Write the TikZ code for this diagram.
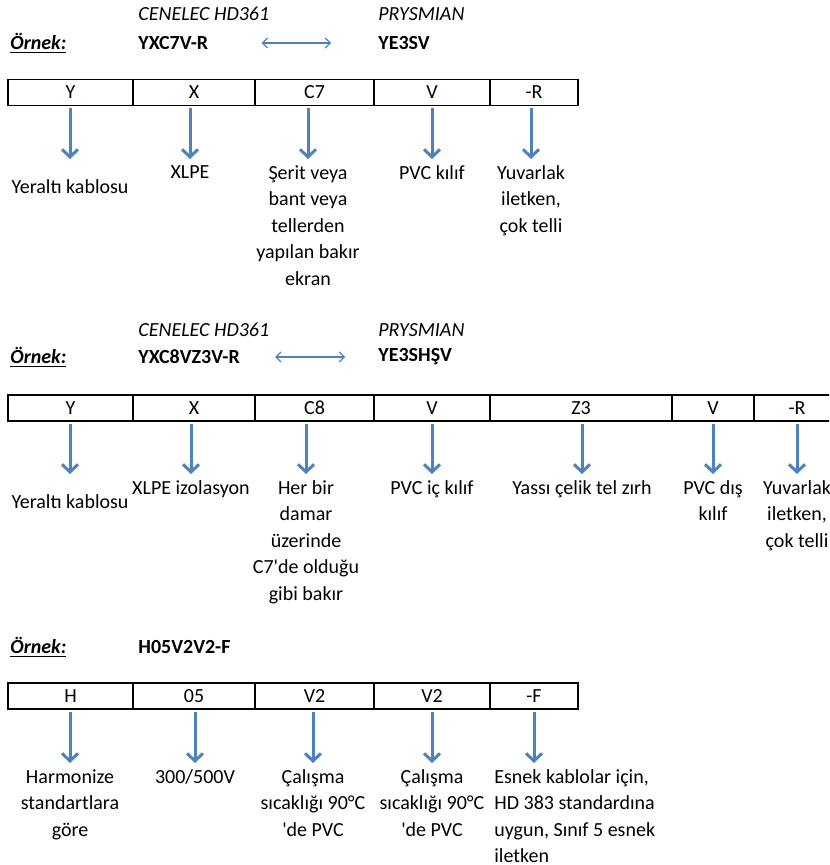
\documentclass[tikz,border=0pt]{standalone}
\usepackage{fontspec}
\setmainfont{Carlito}
\usepackage{tikz}
\usetikzlibrary{arrows.meta,positioning}
\definecolor{arrblue}{HTML}{4F81BD}
\tikzset{
  cell/.style={draw, line width=0.8pt, minimum height=13pt, inner sep=0pt, outer sep=0pt},
  lab/.style={anchor=north, align=center, inner sep=0pt, font=\fontsize{10}{13.25}\selectfont},
  arr/.style={arrblue, line width=1.5pt, -{Straight Barb[length=3.8pt,width=8pt]}, shorten <=1.5pt, shorten >=3pt},
  dblarr/.style={arrblue, line width=0.6pt, {Straight Barb[length=2.5pt,width=5pt]}-{Straight Barb[length=2.5pt,width=5pt]}},
  ornek/.style={anchor=west, inner sep=0pt, font=\bfseries\itshape},
  code/.style={anchor=west, inner sep=0pt, font=\bfseries},
  std/.style={anchor=west, inner sep=0pt, font=\itshape},
}

\begin{document}
\begin{tikzpicture}[x=0.5pt,y=-0.5pt]
          \useasboundingbox (0,0) rectangle (829,865);
          \clip (0,0) rectangle (829,865);

          % first example: heading
          \node[std] (std1) at (138,14) {CENELEC HD361};
          \node[std] (pry1) at (378,14) {PRYSMIAN};
          \node[ornek] (orn1) at (10,43) {\underline{Örnek:}};
          \node[code] (cod1) at (138,43) {YXC7V-R};
          \node[code] (prs1) at (378,43) {YE3SV};
          \draw[dblarr, shorten <=26.5pt, shorten >=23.5pt] (cod1) -- (prs1);
          % cells
          \node[cell, minimum width=62.5pt] (a1) at (70.5,92.5) {Y};
          \node[cell, minimum width=61pt] (a2) at (194,92.5) {X};
          \node[cell, minimum width=59.5pt] (a3) at (314.5,92.5) {C7};
          \node[cell, minimum width=58pt] (a4) at (432,92.5) {V};
          \node[cell, minimum width=44pt] (a5) at (534,92.5) {-R};
          % meanings
          \node[lab, minimum height=21.5pt] (la1) at (70,165) {Yeraltı kablosu};
          \node[lab] (la2) at (190,165) {XLPE};
          \node[lab] (la3) at (308,165) {Şerit veya\\bant veya\\tellerden\\yapılan bakır\\ekran};
          \node[lab] (la4) at (432,165) {PVC kılıf};
          \node[lab] (la5) at (531,165) {Yuvarlak\\iletken,\\çok telli};
          % arrows
          \draw[arr] (la1.north |- a1.south) -- (la1.north);
          \draw[arr] (la2.north |- a2.south) -- (la2.north);
          \draw[arr] (la3.north |- a3.south) -- (la3.north);
          \draw[arr] (la4.north |- a4.south) -- (la4.north);
          \draw[arr] (la5.north |- a5.south) -- (la5.north);

          % second example: heading
          \node[std] (std2) at (138,330) {CENELEC HD361};
          \node[std] (pry2) at (378,330) {PRYSMIAN};
          \node[ornek] (orn2) at (10,357) {\underline{Örnek:}};
          \node[code] (cod2) at (138,357) {YXC8VZ3V-R};
          \node[code] (prs2) at (378,357) {YE3SHŞV};
          \draw[dblarr, shorten <=17.5pt, shorten >=16.5pt] (cod2) -- (prs2);
          % cells
          \node[cell, minimum width=62.5pt] (b1) at (70.5,408) {Y};
          \node[cell, minimum width=61pt] (b2) at (194,408) {X};
          \node[cell, minimum width=59.5pt] (b3) at (314.5,408) {C8};
          \node[cell, minimum width=58pt] (b4) at (432,408) {V};
          \node[cell, minimum width=91pt] (b5) at (581,408) {Z3};
          \node[cell, minimum width=41pt] (b6) at (713,408) {V};
          \node[cell, minimum width=43pt] (b7) at (797,408) {-R};
          % meanings
          \node[lab, minimum height=21pt] (lb1) at (70,480) {Yeraltı kablosu};
          \node[lab] (lb2) at (191,480) {XLPE izolasyon};
          \node[lab] (lb3) at (306,480) {Her bir\\damar\\üzerinde\\C7\textquotesingle de olduğu\\gibi bakır};
          \node[lab] (lb4) at (432,480) {PVC iç kılıf};
          \node[lab] (lb5) at (582,480) {Yassı çelik tel zırh};
          \node[lab] (lb6) at (713,480) {PVC dış\\kılıf};
          \node[lab] (lb7) at (797,480) {Yuvarlak\\iletken,\\çok telli};
          % arrows
          \draw[arr] (lb1.north |- b1.south) -- (lb1.north);
          \draw[arr] (lb2.north |- b2.south) -- (lb2.north);
          \draw[arr] (lb3.north |- b3.south) -- (lb3.north);
          \draw[arr] (lb4.north |- b4.south) -- (lb4.north);
          \draw[arr] (lb5.north |- b5.south) -- (lb5.north);
          \draw[arr] (lb6.north |- b6.south) -- (lb6.north);
          \draw[arr] (lb7.north |- b7.south) -- (lb7.north);

          % third example: heading
          \node[ornek] (orn3) at (10,647) {\underline{Örnek:}};
          \node[code] (cod3) at (138,647) {H05V2V2-F};
          % cells
          \node[cell, minimum width=62.5pt] (c1) at (70.5,696) {H};
          \node[cell, minimum width=61pt] (c2) at (194,696) {05};
          \node[cell, minimum width=59.5pt] (c3) at (314.5,696) {V2};
          \node[cell, minimum width=58pt] (c4) at (432,696) {V2};
          \node[cell, minimum width=44pt] (c5) at (534,696) {-F};
          % meanings
          \node[lab] (lc1) at (70,769) {Harmonize\\standartlara\\göre};
          \node[lab] (lc2) at (195,769) {300/500V};
          \node[lab] (lc3) at (313,769) {Çalışma\\sıcaklığı 90°C\\\textquotesingle de PVC};
          \node[lab] (lc4) at (432,769) {Çalışma\\sıcaklığı 90°C\\\textquotesingle de PVC};
          \node[lab, anchor=north west, align=left] (lc5) at (494,769) {Esnek kablolar için,\\HD 383 standardına\\uygun, Sınıf 5 esnek\\iletken};
          % arrows
          \draw[arr] (lc1.north |- c1.south) -- (lc1.north);
          \draw[arr] (lc2.north |- c2.south) -- (lc2.north);
          \draw[arr] (lc3.north |- c3.south) -- (lc3.north);
          \draw[arr] (lc4.north |- c4.south) -- (lc4.north);
          \draw[arr] (c5.south) -- (c5.south |- lc5.north);
        \end{tikzpicture}
\end{document}
